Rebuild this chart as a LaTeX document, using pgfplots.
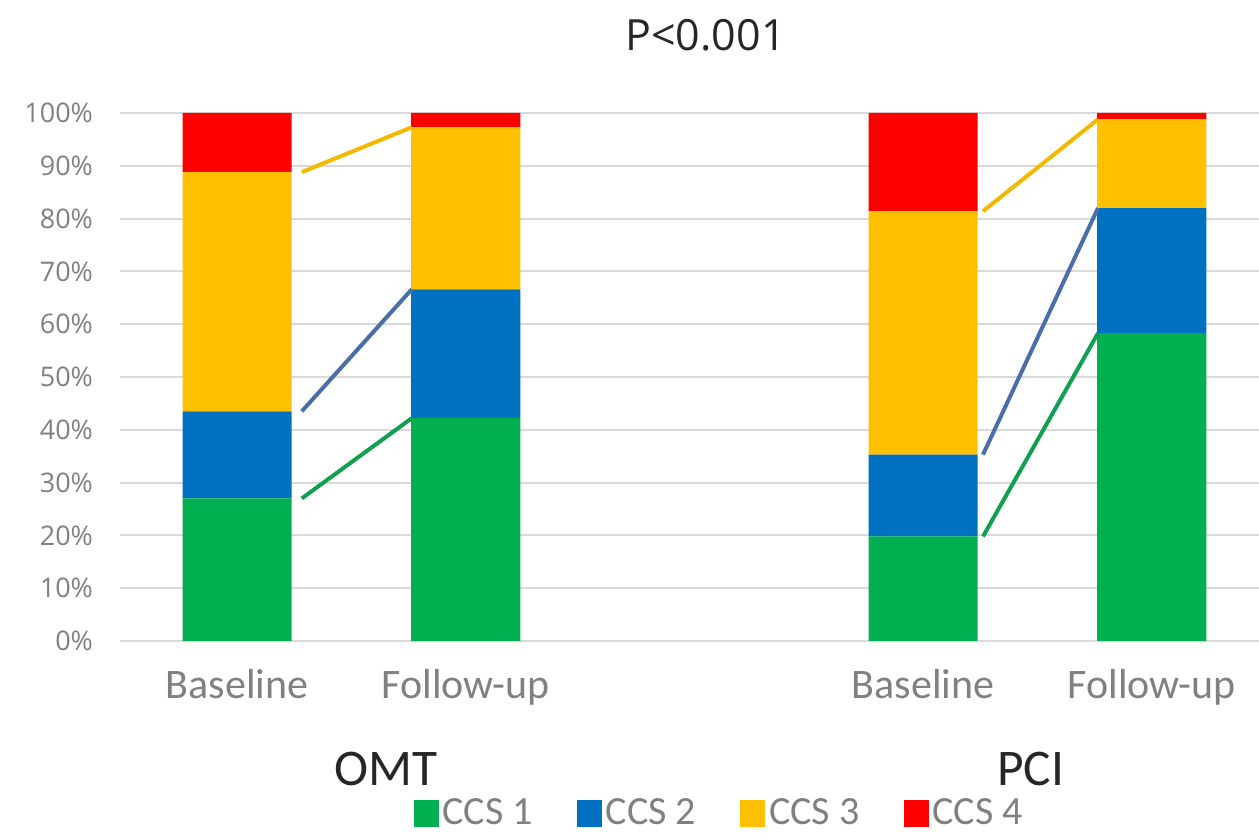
\documentclass[border=0pt]{standalone}
\usepackage{pgfplots}
\usepackage{pgfplotstable}
\pgfplotsset{compat=1.18}
\usepackage{fontspec}
\setmainfont{Carlito}
\newfontfamily\osfont{Open Sans}
\definecolor{cgreen}{HTML}{00B050}
\definecolor{cblue}{HTML}{0070C0}
\definecolor{cyellow}{HTML}{FFC000}
\definecolor{cred}{HTML}{FF0000}
\definecolor{lgreen}{HTML}{12A050}
\definecolor{lblue}{HTML}{4A6EA8}
\definecolor{lyellow}{HTML}{F4B800}
\definecolor{tickgray}{HTML}{808080}
\definecolor{gridgray}{HTML}{D9D9D9}
\definecolor{darktext}{HTML}{262626}

\pgfplotstableread{
x c1 c2 c3 c4
0 27.0 16.5 45.3 11.2
1 42.2 24.4 30.7 2.7
3 19.8 15.5 46.1 18.6
4 58.3 23.7 16.8 1.2
}\ccsdata

\begin{document}
\begin{tikzpicture}
\useasboundingbox (-60pt,-99pt) rectangle (569.5pt,320.5pt);
\begin{axis}[
  at={(0,0)}, anchor=south west,
  scale only axis,
  width=569.5pt, height=264pt,
  xmin=-0.512, xmax=4.469,
  ymin=0, ymax=100,
  ybar stacked,
  bar width=0.477,
  axis line style={draw=none},
  major tick length=0pt,
  ytick={0,10,...,100},
  ymajorgrids,
  grid style={gridgray, line width=1pt},
  /pgf/number format/assume math mode=true,
  yticklabel={\pgfmathprintnumber{\tick}\%},
  yticklabel style={font=\osfont\fontsize{13.5}{16}\selectfont, text=tickgray, xshift=-10pt},
  xtick={0,1,3,4},
  xticklabels={Baseline, Follow-up, Baseline, Follow-up},
  xticklabel style={font=\fontsize{21}{25}\selectfont, text=tickgray, anchor=base, yshift=-29pt},
  clip=false,
  legend columns=-1,
  legend style={at={(0.527,-0.325)}, anchor=center, draw=none, fill=none,
    font=\fontsize{20}{22}\selectfont, text=tickgray, inner sep=0pt,
    /tikz/every even column/.append style={column sep=20pt}},
  legend image code/.code={\fill[#1] (0pt,-7pt) rectangle (12.5pt,6.5pt);},
]
\addplot[fill=cgreen, draw=none] table[x=x, y=c1] {\ccsdata};
\addplot[fill=cblue, draw=none] table[x=x, y=c2] {\ccsdata};
\addplot[fill=cyellow, draw=none] table[x=x, y=c3] {\ccsdata};
\addplot[fill=cred, draw=none] table[x=x, y=c4] {\ccsdata};
\legend{CCS 1, CCS 2, CCS 3, CCS 4}
\node[anchor=base, font=\fontsize{25.7}{30}\selectfont, text=darktext] at (axis cs:0.65,0) [yshift=-72.5pt] {OMT};
\node[anchor=base, font=\fontsize{25.7}{30}\selectfont, text=darktext] at (axis cs:3.47,0) [yshift=-72.5pt] {PCI};
\node[anchor=center, font=\osfont\fontsize{21.5}{26}\selectfont, text=darktext] at (rel axis cs:0.514,1) [yshift=39pt] {P<0.001};
\end{axis}
\begin{axis}[
  at={(0,0)}, anchor=south west,
  scale only axis,
  width=569.5pt, height=264pt,
  xmin=-0.512, xmax=4.469,
  ymin=0, ymax=100,
  hide axis, clip=false,
]
\addplot[lyellow, line width=2pt] coordinates {(0.283,88.8) (0.764,97.3)};
\addplot[lblue, line width=2pt] coordinates {(0.283,43.5) (0.764,66.6)};
\addplot[lgreen, line width=2pt] coordinates {(0.283,27.0) (0.764,42.2)};
\addplot[lyellow, line width=2pt] coordinates {(3.262,81.4) (3.765,98.8)};
\addplot[lblue, line width=2pt] coordinates {(3.262,35.3) (3.765,82.0)};
\addplot[lgreen, line width=2pt] coordinates {(3.262,19.8) (3.765,58.3)};
\end{axis}
\end{tikzpicture}
\end{document}
